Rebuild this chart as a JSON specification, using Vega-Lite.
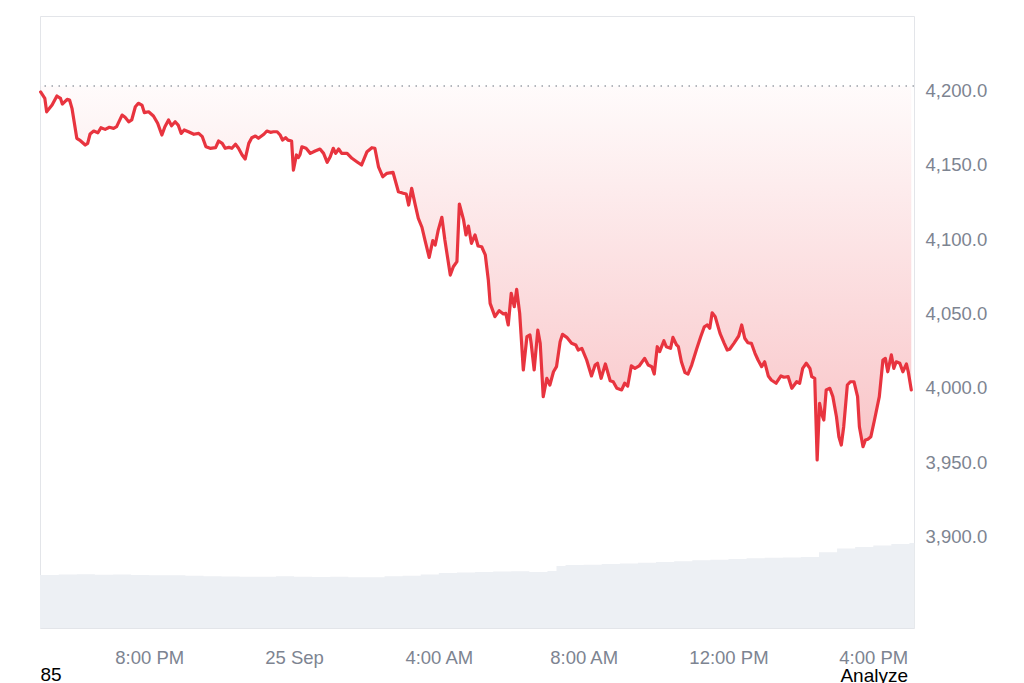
{
  "$schema": "https://vega.github.io/schema/vega-lite/v6.json",
  "autosize": "none",
  "width": 874,
  "height": 612,
  "padding": {"left": 40, "top": 16, "right": 110, "bottom": 55},
  "background": "white",
  "config": {
    "view": {"stroke": "#e3e5e9", "strokeWidth": 1},
    "font": "Liberation Sans"
  },
  "title": {
    "text": "Analyze",
    "orient": "bottom",
    "anchor": "end",
    "frame": "group",
    "fontSize": 19,
    "fontWeight": "normal",
    "color": "#000000",
    "offset": 0,
    "dy": -18,
    "dx": -6
  },
  "datasets": {
    "price": [
      {"t":"2025-09-24T17:00","p":4198.7},{"t":"2025-09-24T17:07","p":4194.4},{"t":"2025-09-24T17:10","p":4185.4},{"t":"2025-09-24T17:19","p":4189.9},{"t":"2025-09-24T17:27","p":4196.0},{"t":"2025-09-24T17:33","p":4194.4},{"t":"2025-09-24T17:36","p":4190.6},{"t":"2025-09-24T17:44","p":4193.8},{"t":"2025-09-24T17:48","p":4193.3},{"t":"2025-09-24T17:52","p":4187.7},
      {"t":"2025-09-24T18:00","p":4167.6},{"t":"2025-09-24T18:06","p":4166.0},{"t":"2025-09-24T18:14","p":4163.1},{"t":"2025-09-24T18:18","p":4164.2},{"t":"2025-09-24T18:22","p":4170.5},{"t":"2025-09-24T18:28","p":4172.5},{"t":"2025-09-24T18:35","p":4171.3},{"t":"2025-09-24T18:40","p":4174.7},{"t":"2025-09-24T18:47","p":4173.6},{"t":"2025-09-24T18:54","p":4175.0},
      {"t":"2025-09-24T19:01","p":4174.3},{"t":"2025-09-24T19:06","p":4175.4},{"t":"2025-09-24T19:15","p":4183.2},{"t":"2025-09-24T19:20","p":4181.7},{"t":"2025-09-24T19:26","p":4178.7},{"t":"2025-09-24T19:31","p":4179.9},{"t":"2025-09-24T19:37","p":4188.8},{"t":"2025-09-24T19:42","p":4191.1},{"t":"2025-09-24T19:48","p":4189.9},{"t":"2025-09-24T19:52","p":4184.8},{"t":"2025-09-24T19:59","p":4185.4},
      {"t":"2025-09-24T20:07","p":4182.6},{"t":"2025-09-24T20:14","p":4177.7},{"t":"2025-09-24T20:21","p":4169.8},{"t":"2025-09-24T20:26","p":4175.4},{"t":"2025-09-24T20:32","p":4179.9},{"t":"2025-09-24T20:37","p":4176.0},{"t":"2025-09-24T20:43","p":4178.7},{"t":"2025-09-24T20:48","p":4176.5},{"t":"2025-09-24T20:53","p":4170.9},{"t":"2025-09-24T20:58","p":4173.2},
      {"t":"2025-09-24T21:05","p":4172.0},{"t":"2025-09-24T21:14","p":4170.3},{"t":"2025-09-24T21:22","p":4170.9},{"t":"2025-09-24T21:28","p":4168.7},{"t":"2025-09-24T21:34","p":4161.9},{"t":"2025-09-24T21:41","p":4160.9},{"t":"2025-09-24T21:50","p":4161.3},{"t":"2025-09-24T21:55","p":4165.8},
      {"t":"2025-09-24T22:01","p":4164.2},{"t":"2025-09-24T22:06","p":4160.9},{"t":"2025-09-24T22:12","p":4161.5},{"t":"2025-09-24T22:17","p":4160.9},{"t":"2025-09-24T22:23","p":4163.6},{"t":"2025-09-24T22:28","p":4160.9},{"t":"2025-09-24T22:34","p":4156.4},{"t":"2025-09-24T22:39","p":4153.7},{"t":"2025-09-24T22:45","p":4164.2},{"t":"2025-09-24T22:50","p":4168.0},{"t":"2025-09-24T22:56","p":4169.1},
      {"t":"2025-09-24T23:01","p":4167.6},{"t":"2025-09-24T23:10","p":4170.3},{"t":"2025-09-24T23:15","p":4172.5},{"t":"2025-09-24T23:21","p":4171.6},{"t":"2025-09-24T23:26","p":4172.0},{"t":"2025-09-24T23:32","p":4172.0},{"t":"2025-09-24T23:37","p":4169.8},{"t":"2025-09-24T23:41","p":4166.4},{"t":"2025-09-24T23:46","p":4168.0},{"t":"2025-09-24T23:50","p":4166.4},{"t":"2025-09-24T23:56","p":4165.8},{"t":"2025-09-24T23:59","p":4146.3},
      {"t":"2025-09-25T00:04","p":4156.4},{"t":"2025-09-25T00:07","p":4154.6},{"t":"2025-09-25T00:10","p":4156.8},{"t":"2025-09-25T00:13","p":4161.9},{"t":"2025-09-25T00:20","p":4160.9},{"t":"2025-09-25T00:27","p":4157.5},{"t":"2025-09-25T00:35","p":4159.1},{"t":"2025-09-25T00:43","p":4160.4},{"t":"2025-09-25T00:49","p":4157.5},{"t":"2025-09-25T00:55","p":4151.5},
      {"t":"2025-09-25T01:00","p":4155.2},{"t":"2025-09-25T01:05","p":4160.9},{"t":"2025-09-25T01:09","p":4157.5},{"t":"2025-09-25T01:14","p":4160.4},{"t":"2025-09-25T01:19","p":4157.5},{"t":"2025-09-25T01:28","p":4157.5},{"t":"2025-09-25T01:36","p":4154.2},{"t":"2025-09-25T01:44","p":4151.9},{"t":"2025-09-25T01:52","p":4149.7},
      {"t":"2025-09-25T02:01","p":4158.6},{"t":"2025-09-25T02:09","p":4161.3},{"t":"2025-09-25T02:14","p":4160.9},{"t":"2025-09-25T02:20","p":4148.5},{"t":"2025-09-25T02:27","p":4141.8},{"t":"2025-09-25T02:34","p":4144.1},{"t":"2025-09-25T02:44","p":4144.8},{"t":"2025-09-25T02:53","p":4131.7},
      {"t":"2025-09-25T03:01","p":4130.7},{"t":"2025-09-25T03:06","p":4130.2},{"t":"2025-09-25T03:10","p":4122.8},{"t":"2025-09-25T03:15","p":4134.0},{"t":"2025-09-25T03:21","p":4122.8},{"t":"2025-09-25T03:26","p":4113.9},{"t":"2025-09-25T03:32","p":4107.9},{"t":"2025-09-25T03:37","p":4099.3},{"t":"2025-09-25T03:44","p":4087.7},{"t":"2025-09-25T03:50","p":4098.9},{"t":"2025-09-25T03:54","p":4096.0},{"t":"2025-09-25T03:59","p":4106.0},
      {"t":"2025-09-25T04:05","p":4114.6},{"t":"2025-09-25T04:10","p":4099.3},{"t":"2025-09-25T04:19","p":4075.8},{"t":"2025-09-25T04:24","p":4081.4},{"t":"2025-09-25T04:30","p":4084.8},{"t":"2025-09-25T04:34","p":4123.5},{"t":"2025-09-25T04:41","p":4112.8},{"t":"2025-09-25T04:45","p":4102.7},{"t":"2025-09-25T04:49","p":4108.7},{"t":"2025-09-25T04:54","p":4097.1},
      {"t":"2025-09-25T05:00","p":4102.7},{"t":"2025-09-25T05:05","p":4095.3},{"t":"2025-09-25T05:11","p":4094.8},{"t":"2025-09-25T05:17","p":4089.3},{"t":"2025-09-25T05:22","p":4072.5},{"t":"2025-09-25T05:25","p":4056.8},{"t":"2025-09-25T05:33","p":4047.9},{"t":"2025-09-25T05:40","p":4051.9},{"t":"2025-09-25T05:47","p":4049.7},{"t":"2025-09-25T05:51","p":4050.1},{"t":"2025-09-25T05:55","p":4042.3},
      {"t":"2025-09-25T06:00","p":4063.6},{"t":"2025-09-25T06:05","p":4054.6},{"t":"2025-09-25T06:09","p":4066.2},{"t":"2025-09-25T06:14","p":4050.1},{"t":"2025-09-25T06:20","p":4012.1},{"t":"2025-09-25T06:26","p":4034.4},{"t":"2025-09-25T06:31","p":4035.6},{"t":"2025-09-25T06:33","p":4030.0},{"t":"2025-09-25T06:38","p":4012.1},{"t":"2025-09-25T06:44","p":4038.9},{"t":"2025-09-25T06:48","p":4030.0},{"t":"2025-09-25T06:53","p":3994.2},{"t":"2025-09-25T06:59","p":4006.5},
      {"t":"2025-09-25T07:04","p":4002.0},{"t":"2025-09-25T07:10","p":4010.9},{"t":"2025-09-25T07:15","p":4014.3},{"t":"2025-09-25T07:21","p":4031.1},{"t":"2025-09-25T07:25","p":4036.0},{"t":"2025-09-25T07:32","p":4034.0},{"t":"2025-09-25T07:40","p":4030.0},{"t":"2025-09-25T07:47","p":4028.9},{"t":"2025-09-25T07:51","p":4025.5},{"t":"2025-09-25T07:57","p":4026.6},
      {"t":"2025-09-25T08:05","p":4018.8},{"t":"2025-09-25T08:13","p":4008.1},{"t":"2025-09-25T08:19","p":4015.4},{"t":"2025-09-25T08:23","p":4016.6},{"t":"2025-09-25T08:29","p":4006.5},{"t":"2025-09-25T08:36","p":4016.1},{"t":"2025-09-25T08:44","p":4004.9},{"t":"2025-09-25T08:49","p":4004.2},{"t":"2025-09-25T08:55","p":3999.8},
      {"t":"2025-09-25T09:03","p":3998.7},{"t":"2025-09-25T09:08","p":4003.2},{"t":"2025-09-25T09:13","p":4001.3},{"t":"2025-09-25T09:19","p":4014.8},{"t":"2025-09-25T09:25","p":4013.2},{"t":"2025-09-25T09:32","p":4014.8},{"t":"2025-09-25T09:41","p":4019.9},{"t":"2025-09-25T09:47","p":4015.4},{"t":"2025-09-25T09:53","p":4014.3},{"t":"2025-09-25T09:57","p":4009.4},
      {"t":"2025-09-25T10:02","p":4027.7},{"t":"2025-09-25T10:06","p":4024.4},{"t":"2025-09-25T10:13","p":4031.7},{"t":"2025-09-25T10:17","p":4027.7},{"t":"2025-09-25T10:24","p":4026.6},{"t":"2025-09-25T10:28","p":4034.0},{"t":"2025-09-25T10:34","p":4028.9},{"t":"2025-09-25T10:37","p":4027.7},{"t":"2025-09-25T10:42","p":4017.6},{"t":"2025-09-25T10:48","p":4010.3},{"t":"2025-09-25T10:53","p":4009.4},{"t":"2025-09-25T10:59","p":4015.4},
      {"t":"2025-09-25T11:07","p":4025.9},{"t":"2025-09-25T11:14","p":4034.4},{"t":"2025-09-25T11:20","p":4041.1},{"t":"2025-09-25T11:25","p":4042.3},{"t":"2025-09-25T11:29","p":4040.1},{"t":"2025-09-25T11:33","p":4050.5},{"t":"2025-09-25T11:38","p":4047.9},{"t":"2025-09-25T11:46","p":4036.7},{"t":"2025-09-25T11:53","p":4030.0},{"t":"2025-09-25T11:58","p":4025.5},
      {"t":"2025-09-25T12:02","p":4026.0},{"t":"2025-09-25T12:09","p":4030.0},{"t":"2025-09-25T12:17","p":4034.9},{"t":"2025-09-25T12:22","p":4042.3},{"t":"2025-09-25T12:27","p":4033.4},{"t":"2025-09-25T12:32","p":4030.4},{"t":"2025-09-25T12:38","p":4030.0},{"t":"2025-09-25T12:44","p":4023.3},{"t":"2025-09-25T12:49","p":4018.8},{"t":"2025-09-25T12:55","p":4014.3},
      {"t":"2025-09-25T13:00","p":4017.6},{"t":"2025-09-25T13:06","p":4008.1},{"t":"2025-09-25T13:11","p":4005.4},{"t":"2025-09-25T13:19","p":4003.2},{"t":"2025-09-25T13:27","p":4008.1},{"t":"2025-09-25T13:32","p":4007.2},{"t":"2025-09-25T13:39","p":4007.6},{"t":"2025-09-25T13:45","p":3999.8},{"t":"2025-09-25T13:53","p":4004.2},{"t":"2025-09-25T13:58","p":4003.2},
      {"t":"2025-09-25T14:03","p":4013.2},{"t":"2025-09-25T14:09","p":4016.6},{"t":"2025-09-25T14:15","p":4013.2},{"t":"2025-09-25T14:18","p":4007.6},{"t":"2025-09-25T14:23","p":4006.5},{"t":"2025-09-25T14:27","p":3951.7},{"t":"2025-09-25T14:31","p":3989.7},{"t":"2025-09-25T14:35","p":3981.9},{"t":"2025-09-25T14:38","p":3978.5},{"t":"2025-09-25T14:42","p":3998.7},{"t":"2025-09-25T14:48","p":3999.8},{"t":"2025-09-25T14:53","p":3994.2},{"t":"2025-09-25T14:59","p":3980.7},
      {"t":"2025-09-25T15:03","p":3967.3},{"t":"2025-09-25T15:07","p":3961.7},{"t":"2025-09-25T15:11","p":3974.0},{"t":"2025-09-25T15:17","p":4002.0},{"t":"2025-09-25T15:22","p":4004.2},{"t":"2025-09-25T15:28","p":4004.2},{"t":"2025-09-25T15:34","p":3994.2},{"t":"2025-09-25T15:37","p":3974.0},{"t":"2025-09-25T15:43","p":3960.6},{"t":"2025-09-25T15:47","p":3965.1},{"t":"2025-09-25T15:51","p":3965.6},{"t":"2025-09-25T15:56","p":3967.3},
      {"t":"2025-09-25T16:02","p":3978.5},{"t":"2025-09-25T16:10","p":3994.2},{"t":"2025-09-25T16:16","p":4018.8},{"t":"2025-09-25T16:20","p":4019.9},{"t":"2025-09-25T16:24","p":4010.9},{"t":"2025-09-25T16:30","p":4022.2},{"t":"2025-09-25T16:34","p":4013.2},{"t":"2025-09-25T16:38","p":4017.6},{"t":"2025-09-25T16:44","p":4016.6},{"t":"2025-09-25T16:49","p":4010.9},{"t":"2025-09-25T16:55","p":4016.1},{"t":"2025-09-25T16:58","p":4010.9},{"t":"2025-09-25T17:03","p":3998.7}
    ],
    "volume": [
      {"t":"2025-09-24T16:59","v":31.2},{"t":"2025-09-24T17:30","v":31.4},{"t":"2025-09-24T18:00","v":31.6},{"t":"2025-09-24T18:30","v":31.3},{"t":"2025-09-24T19:00","v":31.5},{"t":"2025-09-24T19:30","v":31.2},{"t":"2025-09-24T20:00","v":31.0},{"t":"2025-09-24T20:30","v":31.1},{"t":"2025-09-24T21:00","v":30.8},{"t":"2025-09-24T21:30","v":30.5},{"t":"2025-09-24T22:00","v":30.3},{"t":"2025-09-24T22:30","v":30.1},{"t":"2025-09-24T23:00","v":30.2},{"t":"2025-09-24T23:30","v":30.4},
      {"t":"2025-09-25T00:00","v":30.2},{"t":"2025-09-25T00:30","v":30.0},{"t":"2025-09-25T01:00","v":30.1},{"t":"2025-09-25T01:30","v":29.9},{"t":"2025-09-25T02:00","v":29.8},{"t":"2025-09-25T02:30","v":30.4},{"t":"2025-09-25T03:00","v":30.8},{"t":"2025-09-25T03:30","v":31.4},{"t":"2025-09-25T04:00","v":32.3},{"t":"2025-09-25T04:30","v":32.6},{"t":"2025-09-25T05:00","v":33.0},{"t":"2025-09-25T05:30","v":33.2},{"t":"2025-09-25T06:00","v":33.4},{"t":"2025-09-25T06:30","v":33.0},{"t":"2025-09-25T07:00","v":33.6},{"t":"2025-09-25T07:15","v":36.5},{"t":"2025-09-25T07:30","v":37.0},
      {"t":"2025-09-25T08:00","v":37.2},{"t":"2025-09-25T08:30","v":37.6},{"t":"2025-09-25T09:00","v":38.0},{"t":"2025-09-25T09:30","v":38.4},{"t":"2025-09-25T10:00","v":38.8},{"t":"2025-09-25T10:30","v":39.2},{"t":"2025-09-25T11:00","v":39.8},{"t":"2025-09-25T11:30","v":40.2},{"t":"2025-09-25T12:00","v":40.6},{"t":"2025-09-25T12:30","v":41.0},{"t":"2025-09-25T13:00","v":41.3},{"t":"2025-09-25T13:30","v":41.5},{"t":"2025-09-25T14:00","v":41.8},{"t":"2025-09-25T14:30","v":44.5},{"t":"2025-09-25T15:00","v":46.8},{"t":"2025-09-25T15:30","v":47.6},{"t":"2025-09-25T16:00","v":48.6},{"t":"2025-09-25T16:30","v":49.4},{"t":"2025-09-25T17:00","v":50.0},{"t":"2025-09-25T17:08","v":50.2}
    ]
  },
  "layer": [
    {
      "data": {"name": "volume"},
      "mark": {"type": "area", "color": "#edf0f4", "interpolate": "step-after"},
      "encoding": {
        "x": {
          "field": "t",
          "type": "temporal",
          "scale": {"domain": [
            {"year": 2025, "month": 9, "date": 24, "hours": 16, "minutes": 59},
            {"year": 2025, "month": 9, "date": 25, "hours": 17, "minutes": 7, "seconds": 30}
          ]},
          "axis": {
            "title": "85",
            "titleAnchor": "start",
            "titleAlign": "left",
            "titleFontSize": 19,
            "titleFontWeight": "normal",
            "titleColor": "#000000",
            "titlePadding": -1,
            "grid": false,
            "ticks": false,
            "domain": false,
            "labelPadding": 20,
            "labelFontSize": 18.5,
            "labelColor": "#7d8491",
            "labelFlush": false,
            "values": [
              {"year": 2025, "month": 9, "date": 24, "hours": 20},
              {"year": 2025, "month": 9, "date": 25, "hours": 0},
              {"year": 2025, "month": 9, "date": 25, "hours": 4},
              {"year": 2025, "month": 9, "date": 25, "hours": 8},
              {"year": 2025, "month": 9, "date": 25, "hours": 12},
              {"year": 2025, "month": 9, "date": 25, "hours": 16}
            ],
            "labelExpr": "hours(datum.value) == 0 ? timeFormat(datum.value, '%-d %b') : timeFormat(datum.value, '%-I:%M %p')"
          }
        },
        "y": {"field": "v", "type": "quantitative", "stack": null, "scale": {"domain": [0, 360]}, "axis": null}
      }
    },
    {
      "data": {"name": "price"},
      "mark": {
        "type": "area",
        "color": {
          "gradient": "linear",
          "x1": 0, "y1": 0, "x2": 0, "y2": 1,
          "stops": [
            {"offset": 0, "color": "rgba(234,57,67,0.02)"},
            {"offset": 1, "color": "rgba(234,57,67,0.30)"}
          ]
        }
      },
      "encoding": {
        "x": {"field": "t", "type": "temporal"},
        "y": {"field": "p", "type": "quantitative", "scale": {"domain": [3838.9, 4249.7], "nice": false, "zero": false}, "axis": null},
        "y2": {"datum": 4202.7}
      }
    },
    {
      "data": {"values": [{"base": 4202.7}]},
      "mark": {"type": "rule", "color": "#9aa0a8", "strokeWidth": 1.5, "strokeDash": [1.5, 5.5]},
      "encoding": {
        "y": {"field": "base", "type": "quantitative", "scale": {"domain": [3838.9, 4249.7], "nice": false, "zero": false}, "axis": null}
      }
    },
    {
      "data": {"name": "price"},
      "mark": {"type": "line", "color": "#e8343f", "strokeWidth": 3.2, "strokeJoin": "round", "strokeCap": "round"},
      "encoding": {
        "x": {"field": "t", "type": "temporal"},
        "y": {
          "field": "p",
          "type": "quantitative",
          "scale": {"domain": [3838.9, 4249.7], "nice": false, "zero": false},
          "axis": {
            "orient": "right",
            "title": null,
            "values": [3900, 3950, 4000, 4050, 4100, 4150, 4200],
            "format": ",.1f",
            "domain": false,
            "ticks": false,
            "labelPadding": 11,
            "labelFontSize": 18.5,
            "labelColor": "#7d8491",
            "gridColor": "#eceef1",
            "gridWidth": 1
          }
        }
      }
    }
  ],
  "resolve": {"scale": {"y": "independent"}}
}
